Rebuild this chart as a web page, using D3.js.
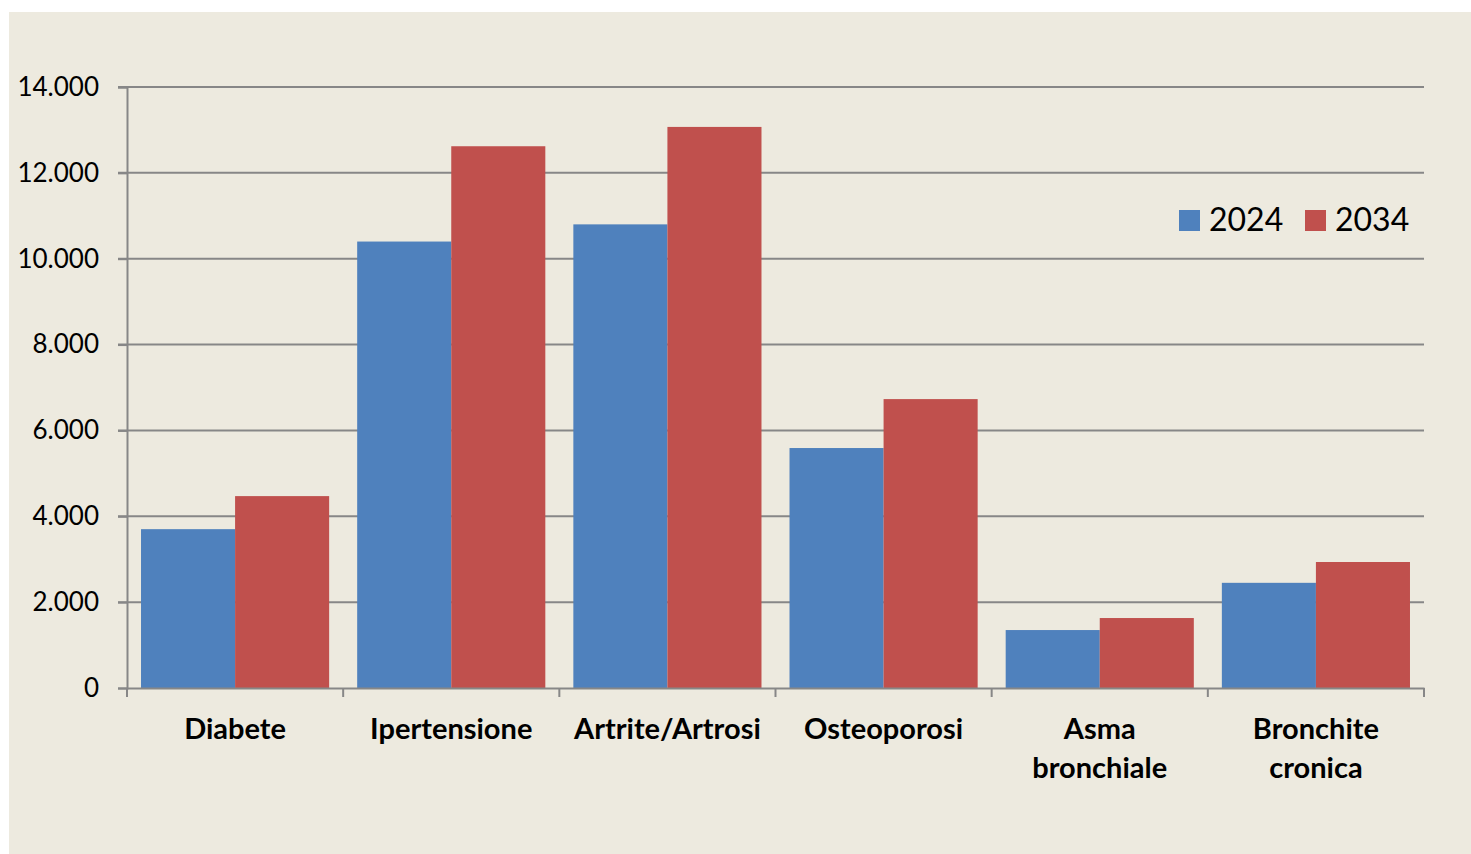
<!DOCTYPE html>
<html>
<head>
<meta charset="utf-8">
<script src="https://cdn.jsdelivr.net/npm/d3@7"></script>
<style>
  body { margin: 0; background: #fff; }
  svg { display: block; font-family: Lato, "Open Sans", sans-serif; }
</style>
</head>
<body>
<div id="chart"></div>
<script>
const width = 1471;
const height = 854;

const categories = ["Diabete", "Ipertensione", "Artrite/Artrosi", "Osteoporosi", "Asma\nbronchiale", "Bronchite\ncronica"];
const years = ["2024", "2034"];
const values2024 = [3700, 10400, 10800, 5590, 1350, 2450];
const values2034 = [4470, 12620, 13070, 6730, 1630, 2935];
const yTicks = [0, 2000, 4000, 6000, 8000, 10000, 12000, 14000];
const colors = ["#4f81bd", "#c0504d"];

const margin = { left: 127, right: 47, top: 87, bottom: 166 };

const svg = d3.select("#chart").append("svg")
    .attr("width", width)
    .attr("height", height);

svg.append("rect")
    .attr("x", 9).attr("y", 12)
    .attr("width", width - 9).attr("height", height - 12)
    .attr("fill", "#edeadf");

const x = d3.scaleBand()
    .domain(categories)
    .range([margin.left, width - margin.right])
    .padding(0);

// two bars per category, with a gap on each side of the pair
const inner = d3.scaleBand()
    .domain(years)
    .range([0, x.bandwidth()])
    .paddingOuter(0.149)
    .paddingInner(0);

const y = d3.scaleLinear()
    .domain([0, 14000])
    .range([height - margin.bottom, margin.top]);

const fmt = d => d3.format(",")(d).replace(/,/g, ".");

// gridlines
svg.append("g")
    .selectAll("line")
    .data(yTicks.filter(d => d > 0))
    .join("line")
    .attr("x1", margin.left - 9)
    .attr("x2", width - margin.right)
    .attr("y1", d => y(d))
    .attr("y2", d => y(d))
    .attr("stroke", "#878787")
    .attr("stroke-width", 2);

// bars
const data = categories.map((c, i) => ({ cat: c, vals: [values2024[i], values2034[i]] }));

const groups = svg.append("g")
    .selectAll("g")
    .data(data)
    .join("g")
    .attr("transform", d => `translate(${x(d.cat)},0)`);

groups.selectAll("rect")
    .data(d => d.vals.map((v, j) => ({ year: years[j], v: v, j: j })))
    .join("rect")
    .attr("x", d => inner(d.year))
    .attr("width", inner.bandwidth())
    .attr("y", d => y(d.v))
    .attr("height", d => y(0) - y(d.v))
    .attr("fill", d => colors[d.j]);

// y axis
const yAxis = svg.append("g")
    .attr("transform", `translate(${margin.left},0)`)
    .call(d3.axisLeft(y).tickValues(yTicks).tickFormat(fmt).tickSize(9).tickPadding(19));
yAxis.select(".domain").attr("stroke", "#878787").attr("stroke-width", 2);
yAxis.selectAll(".tick line").attr("stroke", "#878787").attr("stroke-width", 2);
yAxis.selectAll("text")
    .attr("fill", "#000")
    .style("font-size", "26px")
    .style("font-family", "Lato, 'Open Sans', sans-serif");

// x axis
const xAxis = svg.append("g")
    .attr("transform", `translate(0,${y(0)})`)
    .call(d3.axisBottom(x).tickSize(0).tickFormat(""));
xAxis.select(".domain").attr("stroke", "#878787").attr("stroke-width", 2);
xAxis.selectAll(".tick").remove();

const boundaries = d3.range(categories.length + 1).map(i => margin.left + i * x.step());
xAxis.append("g")
    .selectAll("line")
    .data(boundaries)
    .join("line")
    .attr("x1", d => d).attr("x2", d => d)
    .attr("y1", 0).attr("y2", 9)
    .attr("stroke", "#878787")
    .attr("stroke-width", 2);

// category labels
const labels = svg.append("g")
    .selectAll("text")
    .data(categories)
    .join("text")
    .attr("x", d => x(d) + x.bandwidth() / 2)
    .attr("y", 739)
    .attr("text-anchor", "middle")
    .style("font-size", "29px")
    .style("font-weight", "bold")
    .attr("fill", "#000");

labels.selectAll("tspan")
    .data(d => d.split("\n"))
    .join("tspan")
    .attr("x", function() { return this.parentNode.getAttribute("x"); })
    .attr("dy", (d, i) => i === 0 ? 0 : 39)
    .text(d => d);

// legend
const legend = svg.append("g");
const legendX = [1179, 1305];
years.forEach((yr, i) => {
    legend.append("rect")
        .attr("x", legendX[i]).attr("y", 210)
        .attr("width", 21).attr("height", 21)
        .attr("fill", colors[i]);
    legend.append("text")
        .attr("x", legendX[i] + 30)
        .attr("y", 231)
        .style("font-size", "32px")
        .attr("fill", "#000")
        .text(yr);
});
</script>
</body>
</html>
